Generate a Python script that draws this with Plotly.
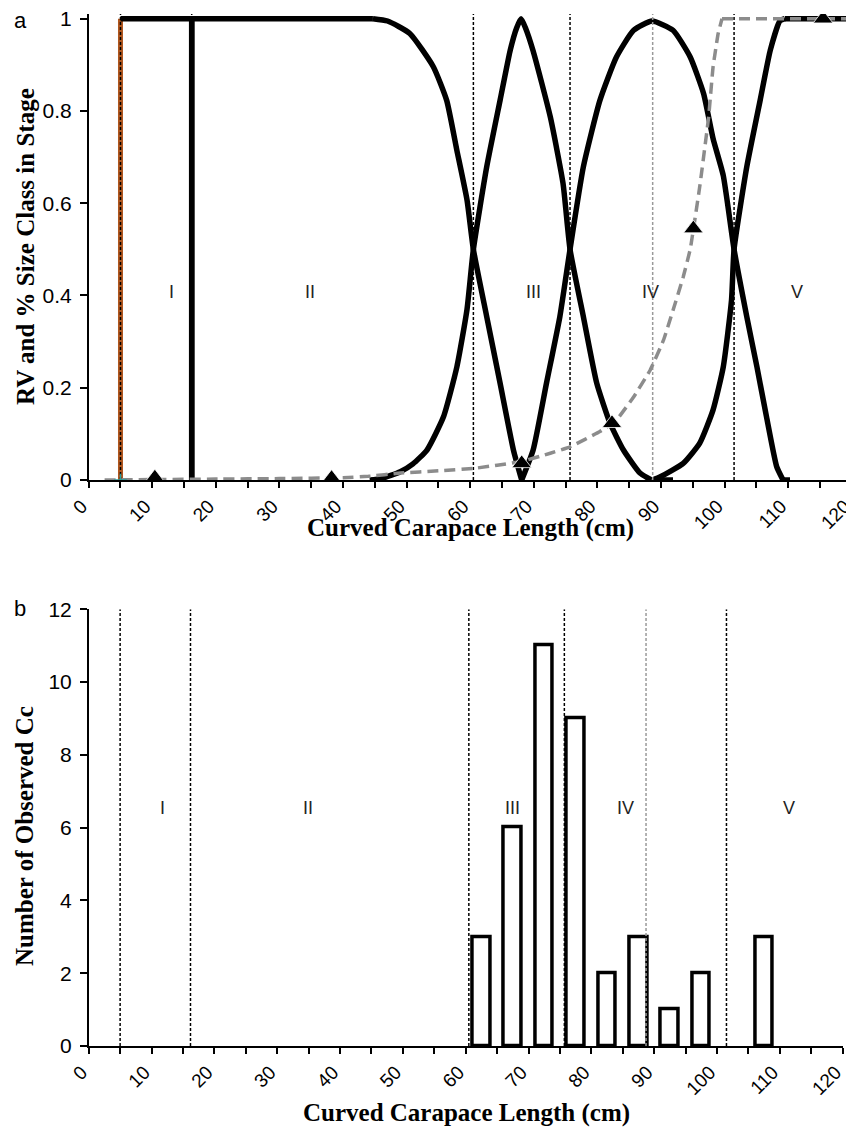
import plotly.graph_objects as go

# ---------------- data ----------------
stage_bounds = [5, 16.2, 60.5, 75.7, 88.7, 101.5]
bound_colors = ["black", "black", "black", "black", "#9a9a9a", "black"]

stage_labels = ["I", "II", "III", "IV", "V"]
label_x_top = [13.1, 34.8, 69.9, 88.4, 111.4]
label_x_bot = [11.7, 34.9, 67.5, 85.4, 111.5]

# stage membership curves (panel a)
s1_x = [5, 16.2, 16.2]
s1_y = [1, 1, 0]
s1_left_x = [5, 5]
s1_left_y = [0, 1]

s2_flat_x = [16.2, 16.2, 44.7]
s2_flat_y = [0, 1, 1]
s2_x = [44.7, 47.0, 50.5, 54.2, 56.3, 57.9, 59.5, 60.5, 62.6, 64.7, 66.8, 68.1]
s2_y = [1, 0.995, 0.968, 0.896, 0.823, 0.715, 0.607, 0.5, 0.354, 0.21, 0.065, 0]

s3_x = [44.2, 46.0, 49.0, 51.0, 53.2, 55.8, 57.9, 59.5, 60.5, 62.6, 64.7, 66.3, 67.3, 68.0,
        68.7, 69.9, 72.6, 74.6, 75.7, 77.8, 79.9, 82.0, 84.1, 86.7, 88.5]
s3_y = [0, 0.003, 0.018, 0.035, 0.065, 0.137, 0.245, 0.37, 0.5, 0.679, 0.823, 0.932, 0.98, 1.0,
        0.98, 0.93, 0.787, 0.643, 0.5, 0.354, 0.21, 0.123, 0.065, 0.015, 0]
s3_tail_x = [88.5, 91.9]
s3_tail_y = [0, 0]

s4_x = [68.1, 69.9, 72.0, 74.1, 75.7, 77.8, 80.4, 83.0, 85.7, 88.6, 91.9, 94.6, 96.7, 98.2,
        99.8, 101.5, 103.5, 105.1, 106.6, 108.2, 109.2]
s4_y = [0, 0.065, 0.21, 0.354, 0.5, 0.679, 0.823, 0.917, 0.975, 0.995, 0.975, 0.917, 0.838, 0.74,
        0.66, 0.5, 0.354, 0.245, 0.137, 0.029, 0]
s4_tail_x = [109.2, 110.3]
s4_tail_y = [0, 0]

s5_x = [88.7, 89.9, 93.5, 96.1, 98.2, 99.8, 101.1, 101.5, 103.5, 105.6, 107.2, 108.7, 109.5]
s5_y = [0, 0.007, 0.036, 0.08, 0.152, 0.245, 0.39, 0.5, 0.679, 0.823, 0.932, 0.995, 1]
s5_flat_x = [109.5, 120]
s5_flat_y = [1, 1]

# reproductive value curve (grey dashed)
rv_x = [2.5, 10, 20, 30, 40, 44, 49, 55, 60.5, 68, 72.6, 75.7, 80.4, 83.0, 85.7, 88.3, 90.4,
        91.9, 93.5, 94.6, 96.1, 97.5, 98.2, 99.0, 99.6, 120]
rv_y = [0, 0.001, 0.002, 0.003, 0.005, 0.008, 0.015, 0.02, 0.025, 0.04, 0.058, 0.072, 0.105, 0.13,
        0.18, 0.238, 0.303, 0.368, 0.44, 0.5, 0.636, 0.787, 0.896, 0.968, 1.0, 1.0]

# observed points (triangles)
obs_x = [10.4, 38.2, 68.1, 82.3, 95.1, 115.5]
obs_y = [0.005, 0.004, 0.036, 0.123, 0.545, 1.0]

# histogram (panel b)
bin_centers = [62.5, 67.5, 72.5, 77.5, 82.5, 87.5, 92.5, 97.5, 107.5]
counts = [3, 6, 11, 9, 2, 3, 1, 2, 3]

x_ticks = [0, 10, 20, 30, 40, 50, 60, 70, 80, 90, 100, 110, 120]
y_ticks_a = [0, 0.2, 0.4, 0.6, 0.8, 1.0]
y_ticktext_a = ["0", "0.2", "0.4", "0.6", "0.8", "1"]
y_ticks_b = [0, 2, 4, 6, 8, 10, 12]

# ---------------- figure ----------------
OFF = 8                     # default page body margin
W, H = 854 - OFF, 1129 - OFF


def px(x):
    return (x - OFF) / W


def py(y):
    return 1 - (y - OFF) / H


fig = go.Figure()
LW = 5.5


def add_line(xs, ys, spline):
    shape = dict(shape="spline", smoothing=0.5) if spline else dict(shape="linear")
    fig.add_trace(go.Scatter(x=xs, y=ys, mode="lines",
                             line=dict(color="black", width=LW, **shape),
                             xaxis="x", yaxis="y", showlegend=False))


# panel a
fig.add_trace(go.Scatter(x=s1_left_x, y=s1_left_y, mode="lines",
                         line=dict(color="#b0561e", width=5), xaxis="x", yaxis="y", showlegend=False))
add_line(s1_x, s1_y, False)
add_line(s2_flat_x, s2_flat_y, False)
add_line(s2_x, s2_y, True)
add_line(s3_x, s3_y, True)
add_line(s3_tail_x, s3_tail_y, False)
add_line(s4_x, s4_y, True)
add_line(s4_tail_x, s4_tail_y, False)
add_line(s5_x, s5_y, True)
add_line(s5_flat_x, s5_flat_y, False)

for b, c in zip(stage_bounds, bound_colors):
    fig.add_trace(go.Scatter(x=[b, b], y=[0, 1.01], mode="lines",
                             line=dict(color=c, width=1.5, dash="3px,2px"),
                             xaxis="x", yaxis="y", showlegend=False))
fig.add_trace(go.Scatter(x=rv_x[:-1], y=rv_y[:-1], mode="lines",
                         line=dict(color="#8c8c8c", width=3.5, dash="11px,6px", shape="spline", smoothing=0.3),
                         xaxis="x", yaxis="y", showlegend=False))
fig.add_trace(go.Scatter(x=rv_x[-2:], y=rv_y[-2:], mode="lines",
                         line=dict(color="#8c8c8c", width=3.5, dash="11px,6px"),
                         xaxis="x", yaxis="y", showlegend=False))
fig.add_trace(go.Scatter(x=[stage_bounds[0]], y=[0], mode="markers",
                         marker=dict(symbol="cross-thin", size=9, line=dict(color="#2a9d9d", width=1.5)),
                         xaxis="x", yaxis="y", showlegend=False))
fig.add_trace(go.Scatter(x=obs_x, y=obs_y, mode="markers",
                         marker=dict(symbol="triangle-up", size=17, color="black",
                                     line=dict(color="white", width=0.8)),
                         xaxis="x", yaxis="y", showlegend=False))

# panel b
for b, c in zip(stage_bounds, bound_colors):
    fig.add_trace(go.Scatter(x=[b, b], y=[0, 12], mode="lines",
                             line=dict(color=c, width=1.5, dash="3px,2px"),
                             xaxis="x2", yaxis="y2", showlegend=False))
fig.add_trace(go.Bar(x=bin_centers, y=counts, width=2.8,
                     marker=dict(color="white", line=dict(color="black", width=3.5)),
                     xaxis="x2", yaxis="y2", showlegend=False))

# stage labels
label_font = dict(family="Liberation Sans, Arial, sans-serif", size=18, color="#222")
for lab, lx in zip(stage_labels, label_x_top):
    fig.add_annotation(x=lx, y=0.407, xref="x", yref="y", text=lab, showarrow=False, font=label_font,
                       xanchor="center", yanchor="middle")
for lab, lx in zip(stage_labels, label_x_bot):
    fig.add_annotation(x=lx, y=6.54, xref="x2", yref="y2", text=lab, showarrow=False, font=label_font,
                       xanchor="center", yanchor="middle")


def paper_text(x, y, text, font, angle=0):
    fig.add_annotation(x=px(x), y=py(y), xref="paper", yref="paper", text=text, showarrow=False,
                       font=font, textangle=angle, xanchor="center", yanchor="middle")


# panel letters
letter_font = dict(family="Liberation Sans, Arial, sans-serif", size=22, color="black")
paper_text(20, 20, "a", letter_font)
paper_text(20, 608, "b", letter_font)

# axis titles
title_font = dict(family="Liberation Serif, Times New Roman, serif", size=25, color="black")
paper_text(470, 528, "<b>Curved Carapace Length (cm)</b>", title_font)
paper_text(466, 1113, "<b>Curved Carapace Length (cm)</b>", title_font)
paper_text(25, 247, "<b>RV and % Size Class in Stage</b>", title_font, -90)
paper_text(24, 836, "<b>Number of Observed Cc</b>", title_font, -90)

xtick_font = dict(family="Liberation Sans, Arial, sans-serif", size=19, color="black")
ytick_font = dict(family="Liberation Sans, Arial, sans-serif", size=21, color="black")

xcommon = dict(range=[0, 120], tickmode="array", tickvals=x_ticks, tickangle=-45,
               ticks="outside", ticklen=6, tickwidth=1.5, tickcolor="black",
               minor=dict(tickmode="linear", tick0=0, dtick=5, ticks="outside", ticklen=6,
                          tickwidth=1.5, tickcolor="black"),
               showline=True, linecolor="black", linewidth=1.5, showgrid=False, zeroline=False,
               tickfont=xtick_font, automargin=False, ticklabeloverflow="allow",
               ticklabelshift=-7)
ycommon = dict(ticks="outside", ticklen=7, tickwidth=1.5, tickcolor="black",
               showline=True, linecolor="black", linewidth=1.5, showgrid=False, zeroline=False,
               tickfont=ytick_font, automargin=False, ticklabelstandoff=4, ticklabeloverflow="allow")

fig.update_layout(
    width=W, height=H,
    margin=dict(l=0, r=0, t=0, b=0),
    paper_bgcolor="white", plot_bgcolor="white",
    bargap=0,
    xaxis=dict(domain=[px(88.7), px(851.7)], anchor="y", **xcommon),
    yaxis=dict(domain=[py(480), py(14.1)], anchor="x", range=[0, 1.01],
               tickmode="array", tickvals=y_ticks_a, ticktext=y_ticktext_a, **ycommon),
    xaxis2=dict(domain=[px(88.7), px(842.7)], anchor="y2", **xcommon),
    yaxis2=dict(domain=[py(1046), py(609.3)], anchor="x2", range=[0, 12],
                tickmode="array", tickvals=y_ticks_b, **ycommon),
)

fig.write_html("out.html")
